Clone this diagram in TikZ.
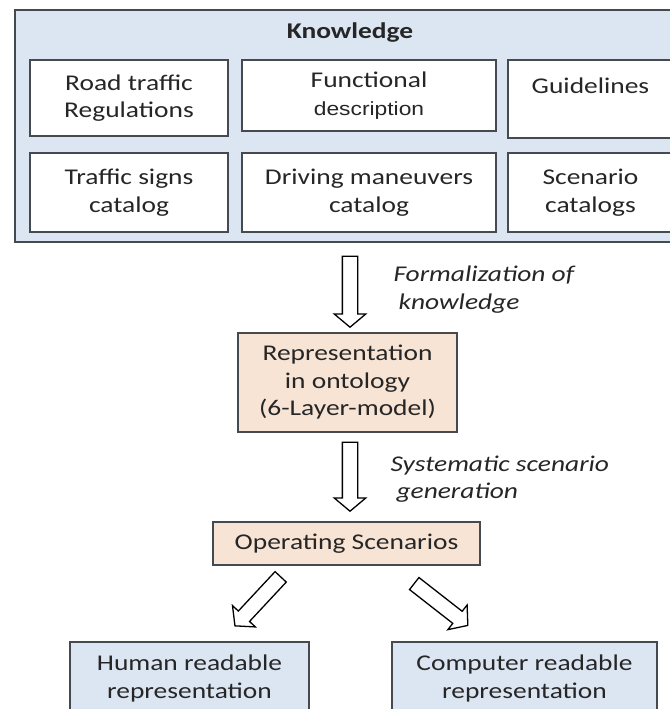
\documentclass[tikz,border=0pt]{standalone}
\usepackage{fontspec}
\setmainfont{Carlito}[FakeStretch=1.22]
\newfontfamily\arialish{Liberation Sans}[FakeStretch=1.2]
\usetikzlibrary{shapes.arrows}
\definecolor{paleblue}{HTML}{DCE6F2}
\definecolor{palepeach}{HTML}{F7E4D5}
\definecolor{frame}{HTML}{454A50}
\definecolor{ink}{HTML}{262626}
\begin{document}
\begin{tikzpicture}[x=1pt,y=-1pt,
  every node/.style={text=ink, font=\fontsize{22.5}{27.5}\selectfont},
  panel/.style={draw=frame, line width=1.4pt, fill=paleblue, rectangle, inner sep=0pt},
  itembox/.style={draw=frame, line width=1.3pt, fill=white, rectangle, inner sep=0pt, align=center},
  stagebox/.style={draw=frame, line width=1.3pt, fill=palepeach, rectangle, inner sep=0pt, align=center},
  outbox/.style={draw=frame, line width=1.3pt, fill=paleblue, rectangle, inner sep=0pt, align=center},
  blockarrow/.style={single arrow, draw=black, line width=1.3pt, fill=white, inner sep=7pt,
    minimum width=0pt, single arrow head extend=8pt, single arrow tip angle=100},
  steplabel/.style={align=left, anchor=west, font=\fontsize{22.5}{27.5}\selectfont\itshape}
]
\useasboundingbox (0,0) rectangle (669,709);
\fill[white] (0,0) rectangle (669,709);

% knowledge sources
\node[panel, minimum width=665pt, minimum height=232pt] (know) at (347.5,126) {};
\node[font=\fontsize{22.5}{27.5}\selectfont\bfseries] (knowtitle) at (350,33) {Knowledge};

\node[itembox, minimum width=198pt, minimum height=76pt] (road) at (129,98) {Road traffic\\Regulations};
\node[itembox, minimum width=254pt, minimum height=71pt] (func) at (369,95.5)
  {Functional\\{\arialish\fontsize{19}{28}\selectfont description}};
\node[itembox, minimum width=165pt, minimum height=78pt] (guide) at (590.5,99) {Guidelines\\\mbox{}};

\node[itembox, minimum width=198pt, minimum height=79pt] (signs) at (129,192.5) {Traffic signs\\catalog};
\node[itembox, minimum width=254pt, minimum height=79pt] (drive) at (369,192.5) {Driving maneuvers\\catalog};
\node[itembox, minimum width=165pt, minimum height=79pt] (scen) at (590.5,192.5) {Scenario\\catalogs};

% processing stages
\node[stagebox, minimum width=219pt, minimum height=99pt] (rep) at (347.5,382.5)
  {Representation\\in ontology\\(6-Layer-model)};
\node[stagebox, minimum width=267pt, minimum height=43pt] (op) at (346.5,543.5) {Operating Scenarios};

% outputs
\node[outbox, minimum width=239pt, minimum height=73pt] (human) at (189.5,678.5) {Human readable\\representation};
\node[outbox, minimum width=265pt, minimum height=73pt] (comp) at (524.5,678.5) {Computer readable\\representation};

% block arrows between the stages
\node[blockarrow, minimum height=71pt, rotate=-90] (formalize) at (350,288.5) {};
\node[blockarrow, minimum height=69pt, rotate=-90] (generate) at (350,473.5) {};
\node[blockarrow, minimum height=67pt, rotate=227] (tohuman) at (260,599) {};
\node[blockarrow, minimum height=68pt, rotate=-38] (tocomp) at (438.5,602.5) {};

% step descriptions
\node[steplabel] (formlabel) at (390,289.5) {Formalization of\\\hspace{5pt}knowledge};
\node[steplabel] (genlabel) at (387,479) {Systematic scenario\\\hspace{6pt}generation};
\end{tikzpicture}
\end{document}
